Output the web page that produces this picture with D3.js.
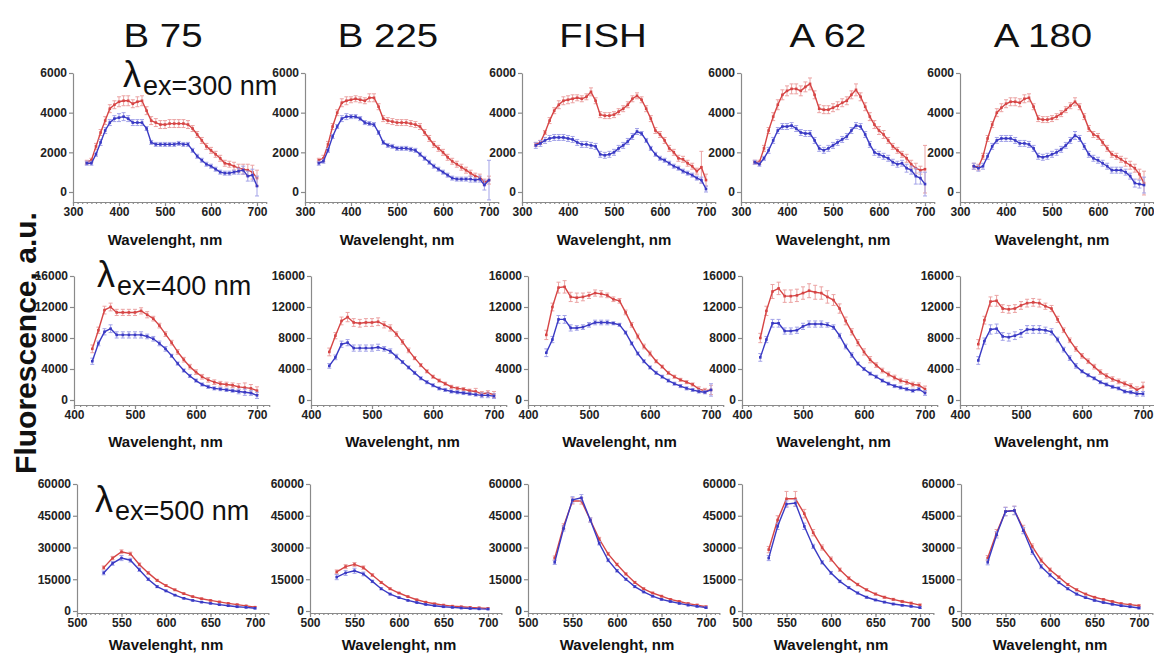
<!DOCTYPE html>
<html>
<head>
<meta charset="utf-8">
<script src="https://cdn.jsdelivr.net/npm/d3@7"></script>
<style>
  body { margin: 0; background: #fff; }
  svg { font-family: "Liberation Sans", Arial, sans-serif; }
</style>
</head>
<body>
<svg id="chart" width="1154" height="655"></svg>
<script>
// Sample names (column headers)
const samples = ["B 75", "B 225", "FISH", "A 62", "A 180"];

// Emission wavelengths (nm) for each excitation wavelength
const wl300 = [330,340,350,360,370,380,390,400,410,420,430,440,450,460,470,480,490,500,510,520,530,540,550,560,570,580,590,600,610,620,630,640,650,660,670,680,690,700];
const wl400 = [430,440,450,460,470,480,490,500,510,520,530,540,550,560,570,580,590,600,610,620,630,640,650,660,670,680,690,700];
const wl500 = [530,540,550,560,570,580,590,600,610,620,630,640,650,660,670,680,690,700];

// Axis tick labels
const xTicks300 = [300,400,500,600,700];
const xTicks400 = [400,500,600,700];
const xTicks500 = [500,550,600,650,700];
const yTicks300 = [0,2000,4000,6000];
const yTicks400 = [0,4000,8000,12000,16000];
const yTicks500 = [0,15000,30000,45000,60000];

// ---- Excitation 300 nm: mean fluorescence (red / blue traces) and error ----
const b75_ex300_red   = [1500,1600,2300,3000,3600,4200,4400,4550,4600,4600,4450,4550,4600,4100,3600,3500,3400,3400,3450,3450,3450,3450,3400,3200,2900,2600,2300,2100,1900,1700,1450,1400,1300,1200,1150,1100,1000,700];
const b75_ex300_blue  = [1450,1450,1900,2500,3100,3500,3700,3750,3800,3700,3500,3500,3500,3200,2500,2400,2400,2400,2400,2400,2450,2400,2400,2100,1800,1600,1400,1300,1150,1000,950,950,1000,1050,1100,800,850,300];
const b225_ex300_red  = [1600,1700,2400,3300,4000,4500,4600,4650,4700,4650,4600,4750,4750,4300,3700,3600,3550,3500,3500,3500,3450,3400,3300,3000,2700,2400,2200,2000,1750,1550,1400,1250,1100,950,800,750,500,600];
const b225_ex300_blue = [1450,1550,2100,2800,3300,3700,3800,3800,3800,3700,3500,3450,3400,3000,2500,2350,2300,2200,2200,2200,2150,2100,1900,1700,1500,1300,1150,1000,850,700,650,650,650,650,600,650,350,600];
const fish_ex300_red  = [2400,2500,3000,3600,4100,4400,4600,4650,4700,4750,4700,4800,5050,4600,3900,3850,3850,3900,4050,4200,4400,4700,4850,4650,4200,3700,3100,2900,2600,2200,2000,1700,1650,1450,1300,1050,1250,600];
const fish_ex300_blue = [2350,2450,2600,2700,2750,2750,2750,2700,2650,2500,2400,2400,2350,2300,1900,1850,1900,2000,2200,2350,2550,2800,3050,2950,2600,2200,1900,1700,1600,1450,1300,1200,1050,950,850,700,600,150];
const a62_ex300_red   = [1500,1500,2200,3100,3800,4400,4900,5100,5200,5200,5100,5300,5450,4900,4200,4150,4150,4250,4350,4500,4600,4900,5150,4800,4300,3800,3400,3100,2900,2600,2300,2100,1900,1700,1400,1200,1100,1150];
const a62_ex300_blue  = [1500,1400,1700,2100,2600,3100,3300,3300,3350,3200,3000,2950,2950,2600,2200,2100,2200,2350,2500,2650,2800,3100,3350,3300,2900,2400,2000,1900,1800,1700,1500,1400,1450,1200,1100,800,700,400];
const a180_ex300_red  = [1300,1250,1800,2700,3400,4000,4250,4450,4550,4550,4500,4700,4750,4300,3700,3650,3650,3700,3800,3950,4150,4350,4550,4300,3800,3200,2900,2800,2500,2200,1900,1800,1650,1500,1350,1200,900,450];
const a180_ex300_blue = [1300,1200,1300,1800,2300,2600,2700,2700,2700,2600,2450,2450,2400,2200,1800,1750,1800,1900,2000,2150,2350,2600,2850,2700,2300,1900,1700,1600,1450,1300,1100,1100,1100,1000,800,450,400,350];

const b75_ex300_redErr   = [100,100,150,150,200,200,200,250,250,250,200,250,250,200,200,200,200,200,200,200,200,200,200,150,150,150,150,150,150,150,150,150,200,200,250,300,350,400];
const b75_ex300_blueErr  = [100,100,100,150,150,150,150,200,200,150,150,150,150,100,100,100,100,100,100,100,100,100,100,100,100,100,100,100,100,100,100,100,100,150,200,250,300,500];
const b225_ex300_redErr  = [100,150,150,150,150,200,200,150,150,150,150,200,200,150,150,150,150,150,150,150,150,150,150,150,150,150,150,150,150,150,150,150,150,150,150,150,150,200];
const b225_ex300_blueErr = [100,100,100,100,100,150,150,100,100,100,100,100,100,100,100,100,100,100,100,100,100,100,100,100,100,100,100,100,100,100,100,100,100,150,100,150,250,1000];
const fish_ex300_redErr  = [100,100,100,150,150,200,200,200,200,150,150,150,200,150,150,150,150,150,150,150,150,150,150,150,150,150,150,150,150,150,150,150,150,150,150,150,800,300];
const fish_ex300_blueErr = [150,150,150,150,150,150,150,150,150,150,150,150,150,150,150,150,150,150,150,150,150,150,150,100,100,100,100,100,100,100,100,100,100,100,100,100,150,150];
const a62_ex300_redErr   = [100,100,150,150,200,250,250,250,250,250,250,250,300,200,200,200,200,200,200,200,200,200,300,200,200,200,200,200,200,150,150,150,150,200,200,250,200,1200];
const a62_ex300_blueErr  = [100,100,100,150,150,150,150,150,150,150,150,150,150,150,150,150,150,150,150,150,150,150,150,150,150,150,150,150,150,150,150,150,150,200,200,400,300,600];
const a180_ex300_redErr  = [150,150,150,150,150,200,200,200,200,200,200,200,200,150,150,150,150,150,150,150,150,150,200,150,150,150,150,150,150,150,150,150,150,200,200,200,250,600];
const a180_ex300_blueErr = [150,150,150,150,150,150,150,150,150,150,150,150,150,150,150,150,150,150,150,150,150,150,200,150,150,150,150,150,150,150,150,150,150,150,150,200,200,400];

// ---- Excitation 400 nm ----
const b75_ex400_red   = [6600,9000,11600,12000,11300,11300,11300,11300,11500,11000,10500,9600,8500,7400,6200,5200,4300,3600,3000,2600,2300,2100,2000,1900,1700,1600,1500,1200];
const b75_ex400_blue  = [5000,7300,8800,9200,8400,8400,8400,8400,8400,8200,7900,7300,6600,5700,4700,3800,3100,2500,2000,1700,1500,1400,1300,1200,1100,1000,900,600];
const b225_ex400_red  = [6200,8300,10200,10700,10000,9900,10000,10000,10100,9700,9300,8500,7500,6400,5400,4500,3700,3000,2500,2100,1700,1500,1400,1200,1100,800,900,700];
const b225_ex400_blue = [4400,5500,7200,7400,6700,6700,6700,6700,6800,6600,6300,5600,4900,4200,3500,2800,2300,1900,1500,1300,1100,1000,900,800,700,600,600,500];
const fish_ex400_red  = [8400,12000,14500,14600,13300,13200,13300,13500,13800,13700,13500,13000,12800,11300,9700,8200,6900,6000,5000,4300,3500,3000,2600,2300,2000,1400,1200,1300];
const fish_ex400_blue = [6100,7800,10400,10400,9300,9300,9400,9700,10000,10000,10000,9900,9700,8700,7300,6000,5000,4200,3500,3000,2500,2100,1800,1500,1300,1100,1000,1300];
const a62_ex400_red   = [8000,11500,14000,14400,13400,13400,13500,13800,14100,13900,13800,13300,12900,11800,10200,8800,7400,6200,5200,4500,3800,3300,2900,2500,2300,2000,1900,1400];
const a62_ex400_blue  = [5500,7800,9900,9900,8900,8900,9000,9500,9800,9800,9800,9700,9400,8300,6900,5800,4700,4000,3400,3000,2500,2100,1800,1600,1400,1200,1400,900];
const a180_ex400_red  = [7200,10300,12700,12800,11800,11700,11800,12200,12500,12600,12500,12100,11800,10400,9000,7700,6600,5700,5000,4300,3600,3100,2700,2400,2100,1800,1300,1700];
const a180_ex400_blue = [5100,7600,9100,9200,8200,8100,8300,8600,9100,9100,9100,9000,8800,7800,6500,5400,4400,3700,3200,2800,2300,2000,1700,1500,1100,1000,800,800];

const b75_ex400_redErr   = [500,400,500,500,400,400,400,400,400,400,300,300,300,300,300,300,300,300,300,300,300,300,300,300,400,600,500,500];
const b75_ex400_blueErr  = [400,300,400,500,400,400,400,400,400,300,300,300,300,200,200,200,200,200,200,200,200,200,200,200,300,400,300,400];
const b225_ex400_redErr  = [500,400,500,600,500,500,500,500,500,400,400,300,300,300,200,200,200,200,200,200,200,200,200,200,400,300,300,400];
const b225_ex400_blueErr = [300,300,400,400,400,400,400,400,400,300,300,300,200,200,200,200,200,200,200,200,200,200,200,200,200,300,300,300];
const fish_ex400_redErr  = [600,500,700,800,600,600,500,400,400,400,300,300,300,300,300,300,300,300,200,200,200,200,200,200,200,300,300,600];
const fish_ex400_blueErr = [500,400,500,500,400,300,300,300,300,300,300,200,200,200,200,200,200,200,200,200,200,200,200,200,200,200,200,800];
const a62_ex400_redErr   = [600,600,900,800,800,800,800,800,900,900,800,800,700,600,500,400,400,400,400,300,300,300,300,300,300,300,300,400];
const a62_ex400_blueErr  = [500,400,500,500,400,400,400,400,400,400,400,300,300,300,300,300,200,200,200,200,200,200,200,200,200,200,200,300];
const a180_ex400_redErr  = [600,500,600,700,500,500,500,500,500,500,500,400,400,400,300,300,300,300,300,300,300,300,300,300,300,300,400,600];
const a180_ex400_blueErr = [500,400,600,600,500,500,500,500,500,500,500,400,400,300,300,300,300,200,200,200,200,200,200,200,200,200,300,300];

// ---- Excitation 500 nm ----
const b75_ex500_red   = [20500,25000,28000,27000,22000,18000,14500,12000,10000,8200,6800,5800,5000,4300,3600,3000,2400,1800];
const b75_ex500_blue  = [18000,22500,25000,24000,19500,15000,11500,9500,7500,6000,5000,4200,3600,3000,2500,2000,1700,1300];
const b225_ex500_red  = [18500,21000,22000,20500,17000,13500,10500,8500,6800,5300,4200,3400,2800,2300,2000,1700,1500,1200];
const b225_ex500_blue = [16000,18000,19000,17500,14000,10500,8000,6300,5000,4000,3100,2500,2000,1700,1400,1200,1000,900];
const fish_ex500_red  = [25000,40000,52000,52000,43000,34000,27000,22000,17500,13500,10500,8500,7000,5500,4500,3500,2800,2000];
const fish_ex500_blue = [23000,39000,52500,53500,43000,32000,24000,19000,15000,11500,9000,7000,5500,4500,3600,2800,2200,1600];
const a62_ex500_red   = [29000,43000,53000,53000,46000,37000,30000,24500,19500,15500,12500,10000,8000,6500,5500,4500,3700,2800];
const a62_ex500_blue  = [25000,40000,50500,51000,40000,30500,23000,18000,14000,11000,8500,6500,5200,4200,3300,2700,2200,1600];
const a180_ex500_red  = [25000,37000,47000,47500,39000,30500,24000,19500,16000,12500,10000,8000,6500,5500,4500,3500,3000,2500];
const a180_ex500_blue = [23000,36000,47000,47500,38000,28000,21000,17000,13500,10500,8000,6300,5000,4000,3200,2500,2000,1400];

const b75_ex500_redErr   = [800,800,900,800,700,600,500,400,400,300,300,300,300,300,300,300,300,300];
const b75_ex500_blueErr  = [900,900,1200,900,800,600,500,400,300,300,300,300,300,300,300,300,300,300];
const b225_ex500_redErr  = [900,900,900,800,600,500,400,300,300,300,300,300,300,300,300,300,300,300];
const b225_ex500_blueErr = [1200,1200,1200,900,600,500,400,300,300,300,300,300,300,300,300,300,300,300];
const fish_ex500_redErr  = [1000,1200,1500,1500,1000,800,700,600,500,500,400,400,400,400,400,400,400,400];
const fish_ex500_blueErr = [1000,1200,1500,1500,1000,800,700,600,500,500,400,400,400,400,400,400,400,400];
const a62_ex500_redErr   = [1500,2000,3500,3500,2000,1500,1200,1000,800,700,600,500,500,500,500,500,500,500];
const a62_ex500_blueErr  = [1200,1500,1500,1500,1500,1000,800,700,600,500,500,500,400,400,400,400,400,400];
const a180_ex500_redErr  = [1200,1500,2000,2000,1500,1200,1000,800,600,500,500,400,400,400,400,400,400,400];
const a180_ex500_blueErr = [1200,1500,2000,2000,1500,1200,1000,800,600,500,500,400,400,400,400,400,400,400];

// ---- Layout per excitation row ----
const rows = [
  { ex: "300", wl: wl300, xMin: 300, xMax: 720, xTicks: xTicks300, minor: 10, pxPerNm: 0.46,
    yMax: 6000, yTicks: yTicks300, yTop: 73, yZero: 192, axisY: 202,
    axisX: [73, 305, 522, 741, 960], xLabelY: 245, lambdaX: 123, lambdaY: 95,
    series: [
      [b75_ex300_red, b75_ex300_blue, b75_ex300_redErr, b75_ex300_blueErr],
      [b225_ex300_red, b225_ex300_blue, b225_ex300_redErr, b225_ex300_blueErr],
      [fish_ex300_red, fish_ex300_blue, fish_ex300_redErr, fish_ex300_blueErr],
      [a62_ex300_red, a62_ex300_blue, a62_ex300_redErr, a62_ex300_blueErr],
      [a180_ex300_red, a180_ex300_blue, a180_ex300_redErr, a180_ex300_blueErr]] },
  { ex: "400", wl: wl400, xMin: 400, xMax: 720, xTicks: xTicks400, minor: 10, pxPerNm: 0.61,
    yMax: 16000, yTicks: yTicks400, yTop: 276, yZero: 400, axisY: 405,
    axisX: [74, 311, 528, 742, 960], xLabelY: 447, lambdaX: 97, lambdaY: 295,
    series: [
      [b75_ex400_red, b75_ex400_blue, b75_ex400_redErr, b75_ex400_blueErr],
      [b225_ex400_red, b225_ex400_blue, b225_ex400_redErr, b225_ex400_blueErr],
      [fish_ex400_red, fish_ex400_blue, fish_ex400_redErr, fish_ex400_blueErr],
      [a62_ex400_red, a62_ex400_blue, a62_ex400_redErr, a62_ex400_blueErr],
      [a180_ex400_red, a180_ex400_blue, a180_ex400_redErr, a180_ex400_blueErr]] },
  { ex: "500", wl: wl500, xMin: 500, xMax: 715, xTicks: xTicks500, minor: 5, pxPerNm: 0.89,
    yMax: 60000, yTicks: yTicks500, yTop: 484, yZero: 611, axisY: 613,
    axisX: [77, 310, 528, 742, 961], xLabelY: 650, lambdaX: 95, lambdaY: 520,
    series: [
      [b75_ex500_red, b75_ex500_blue, b75_ex500_redErr, b75_ex500_blueErr],
      [b225_ex500_red, b225_ex500_blue, b225_ex500_redErr, b225_ex500_blueErr],
      [fish_ex500_red, fish_ex500_blue, fish_ex500_redErr, fish_ex500_blueErr],
      [a62_ex500_red, a62_ex500_blue, a62_ex500_redErr, a62_ex500_blueErr],
      [a180_ex500_red, a180_ex500_blue, a180_ex500_redErr, a180_ex500_blueErr]] }
];

const colors = { red: "#d64545", blue: "#3a3ac4", redErr: "#eba3a3", blueErr: "#a3a3e8" };
const axisColor = "#8a8a8a";
const labelColor = "#222";

const svg = d3.select("#chart");

// Column headers (slightly widened lettering)
const titleX = [163, 388, 603, 828, 1043];
svg.selectAll("text.title").data(samples).join("text")
  .attr("class", "title")
  .attr("transform", (d, i) => `translate(${titleX[i]},47) scale(1.13,1)`)
  .attr("text-anchor", "middle")
  .attr("font-size", 34).attr("fill", "#111")
  .text(d => d);

// Shared y-axis title
svg.append("text")
  .attr("transform", "translate(36,343) rotate(-90)")
  .attr("text-anchor", "middle")
  .attr("font-size", 30).attr("font-weight", "bold").attr("fill", "#111")
  .text("Fluorescence, a.u.");

function drawPanel(row, col) {
  const x0 = row.axisX[col];
  const x = d3.scaleLinear().domain([row.xMin, row.xMax])
    .range([x0, x0 + (row.xMax - row.xMin) * row.pxPerNm]);
  const yMin = -(row.axisY - row.yZero) / (row.yZero - row.yTop) * row.yMax;
  const y = d3.scaleLinear().domain([yMin, row.yMax]).range([row.axisY, row.yTop]);
  const g = svg.append("g");

  // y axis
  g.append("g").attr("transform", `translate(${x0},0)`)
    .call(d3.axisLeft(y).tickValues(row.yTicks).tickFormat(d3.format("d"))
      .tickSize(4).tickSizeOuter(0).tickPadding(2));
  // x axis with minor ticks
  const minorTicks = d3.range(row.xMin, row.xMax + 0.01, row.minor);
  g.append("g").attr("transform", `translate(0,${row.axisY})`)
    .call(d3.axisBottom(x).tickValues(minorTicks).tickSize(2).tickSizeOuter(0).tickFormat(""));
  g.append("g").attr("transform", `translate(0,${row.axisY})`)
    .call(d3.axisBottom(x).tickValues(row.xTicks).tickFormat(d3.format("d"))
      .tickSize(4).tickSizeOuter(0).tickPadding(1));

  g.selectAll(".domain, .tick line").attr("stroke", axisColor).attr("stroke-width", 1.2);
  g.selectAll(".tick text").attr("font-family", "'Liberation Sans', Arial, sans-serif")
    .attr("font-size", 12).attr("font-weight", "bold").attr("fill", labelColor);

  // x-axis title
  g.append("text")
    .attr("x", x((row.xTicks[0] + row.xTicks[row.xTicks.length - 1]) / 2)).attr("y", row.xLabelY)
    .attr("text-anchor", "middle").attr("font-size", 15).attr("font-weight", "bold").attr("fill", "#111")
    .text("Wavelenght, nm");

  const [red, blue, redErr, blueErr] = row.series[col];
  const traces = [
    { vals: red, err: redErr, c: colors.red, ce: colors.redErr },
    { vals: blue, err: blueErr, c: colors.blue, ce: colors.blueErr }
  ];
  traces.forEach(t => {
    const pts = row.wl.map((w, i) => ({ w, v: t.vals[i], e: t.err[i] }));
    const eb = g.append("g").attr("stroke", t.ce).attr("stroke-width", 1);
    eb.selectAll("line.v").data(pts).join("line").attr("class", "v")
      .attr("x1", d => x(d.w)).attr("x2", d => x(d.w))
      .attr("y1", d => y(d.v - d.e)).attr("y2", d => y(d.v + d.e));
    eb.selectAll("line.t").data(pts).join("line").attr("class", "t")
      .attr("x1", d => x(d.w) - 2).attr("x2", d => x(d.w) + 2)
      .attr("y1", d => y(d.v + d.e)).attr("y2", d => y(d.v + d.e));
    eb.selectAll("line.b").data(pts).join("line").attr("class", "b")
      .attr("x1", d => x(d.w) - 2).attr("x2", d => x(d.w) + 2)
      .attr("y1", d => y(d.v - d.e)).attr("y2", d => y(d.v - d.e));
    g.append("path").datum(pts)
      .attr("fill", "none").attr("stroke", t.c).attr("stroke-width", 1.4)
      .attr("d", d3.line().x(d => x(d.w)).y(d => y(d.v)));
    g.selectAll(null).data(pts).join("rect")
      .attr("x", d => x(d.w) - 1.3).attr("y", d => y(d.v) - 1.3)
      .attr("width", 2.6).attr("height", 2.6).attr("fill", t.c);
  });
}

rows.forEach(row => {
  row.series.forEach((s, col) => drawPanel(row, col));
  // excitation label: lambda with subscripted "ex=... nm"
  const t = svg.append("text").attr("x", row.lambdaX).attr("y", row.lambdaY - 8).attr("fill", "#111");
  t.append("tspan").attr("font-size", 36).text("λ");
  t.append("tspan").attr("font-size", 27).attr("dy", 8).attr("dx", 2).text(`ex=${row.ex} nm`);
});
</script>
</body>
</html>
